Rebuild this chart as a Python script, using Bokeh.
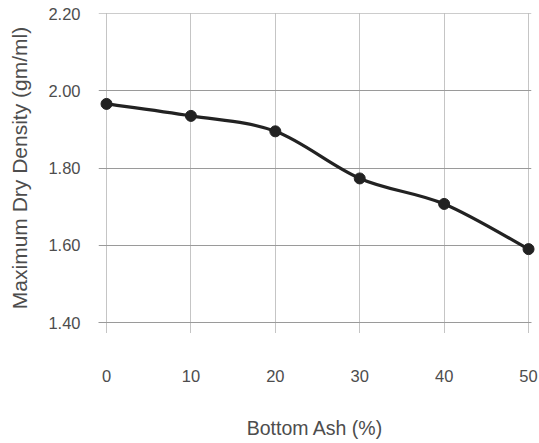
from bokeh.plotting import figure
from bokeh.models import FixedTicker, NumeralTickFormatter, Range1d
from bokeh.embed import file_html
from bokeh.resources import INLINE

# data
bottom_ash = [0, 10, 20, 30, 40, 50]
max_dry_density = [1.966, 1.935, 1.895, 1.773, 1.707, 1.590]
x_ticks = [0, 10, 20, 30, 40, 50]
y_ticks = [1.40, 1.60, 1.80, 2.00, 2.20]

TEXT = "#4d4d4d"
FONT = "Liberation Sans"
HGRID = "#9a9a9a"
VGRID = "#8a8a8a"

p = figure(width=539, height=443, output_backend="svg", toolbar_location=None,
           x_range=Range1d(-0.95, 50.35), y_range=Range1d(1.40, 2.2001),
           min_border_left=98, min_border_right=8, min_border_top=13, min_border_bottom=121)
p.outline_line_color = None
p.background_fill_color = "white"
p.border_fill_color = "white"

# smoothed line via Catmull-Rom -> cubic Bezier segments
n = len(bottom_ash)
x0, y0, x1, y1, cx0, cy0, cx1, cy1 = [], [], [], [], [], [], [], []
for i in range(n - 1):
    pm = max(i - 1, 0)
    pp = min(i + 2, n - 1)
    x0.append(bottom_ash[i]); y0.append(max_dry_density[i])
    x1.append(bottom_ash[i + 1]); y1.append(max_dry_density[i + 1])
    cx0.append(bottom_ash[i] + (bottom_ash[i + 1] - bottom_ash[pm]) / 6)
    cy0.append(max_dry_density[i] + (max_dry_density[i + 1] - max_dry_density[pm]) / 6)
    cx1.append(bottom_ash[i + 1] - (bottom_ash[pp] - bottom_ash[i]) / 6)
    cy1.append(max_dry_density[i + 1] - (max_dry_density[pp] - max_dry_density[i]) / 6)

p.bezier(x0=x0, y0=y0, x1=x1, y1=y1, cx0=cx0, cy0=cy0, cx1=cx1, cy1=cy1,
         line_color="#222222", line_width=3.2, level="overlay")
p.scatter(bottom_ash, max_dry_density, size=11, fill_color="#222222",
          line_color="#222222", level="overlay")

# grids
p.xgrid.ticker = FixedTicker(ticks=x_ticks)
p.ygrid.ticker = FixedTicker(ticks=y_ticks)
p.xgrid.grid_line_color = VGRID
p.xgrid.grid_line_dash = "1 1"
p.xgrid.grid_line_width = 1
p.ygrid.grid_line_color = HGRID
p.ygrid.grid_line_width = 1

# axes
for ax in (p.xaxis[0], p.yaxis[0]):
    ax.minor_tick_line_color = None
    ax.major_label_text_font = FONT
    ax.major_label_text_font_size = "16.5px"
    ax.major_label_text_color = TEXT
    ax.axis_label_text_font = FONT
    ax.axis_label_text_font_style = "normal"
    ax.axis_label_text_color = TEXT

# x axis: its line is the 1.40 gridline, its ticks are the gridline stubs below
p.xaxis.axis_line_color = HGRID
p.xaxis.axis_line_width = 1
p.xaxis.major_tick_line_color = VGRID
p.xaxis.major_tick_line_dash = "1 1"
p.xaxis.major_tick_in = 0
p.xaxis.major_tick_out = 10
p.yaxis.axis_line_color = None
p.yaxis.major_tick_line_color = None

p.xaxis.ticker = FixedTicker(ticks=x_ticks)
p.yaxis.ticker = FixedTicker(ticks=y_ticks)
p.yaxis.formatter = NumeralTickFormatter(format="0.00")
p.xaxis.major_label_standoff = 37
p.yaxis.major_label_standoff = 12
p.xaxis.axis_label = "Bottom Ash (%)"
p.yaxis.axis_label = "Maximum Dry Density (gm/ml)"
p.xaxis.axis_label_text_font_size = "19.5px"
p.yaxis.axis_label_text_font_size = "21px"
p.xaxis.axis_label_standoff = 32
p.yaxis.axis_label_standoff = 14

open("out.html", "w").write(file_html(p, INLINE))
